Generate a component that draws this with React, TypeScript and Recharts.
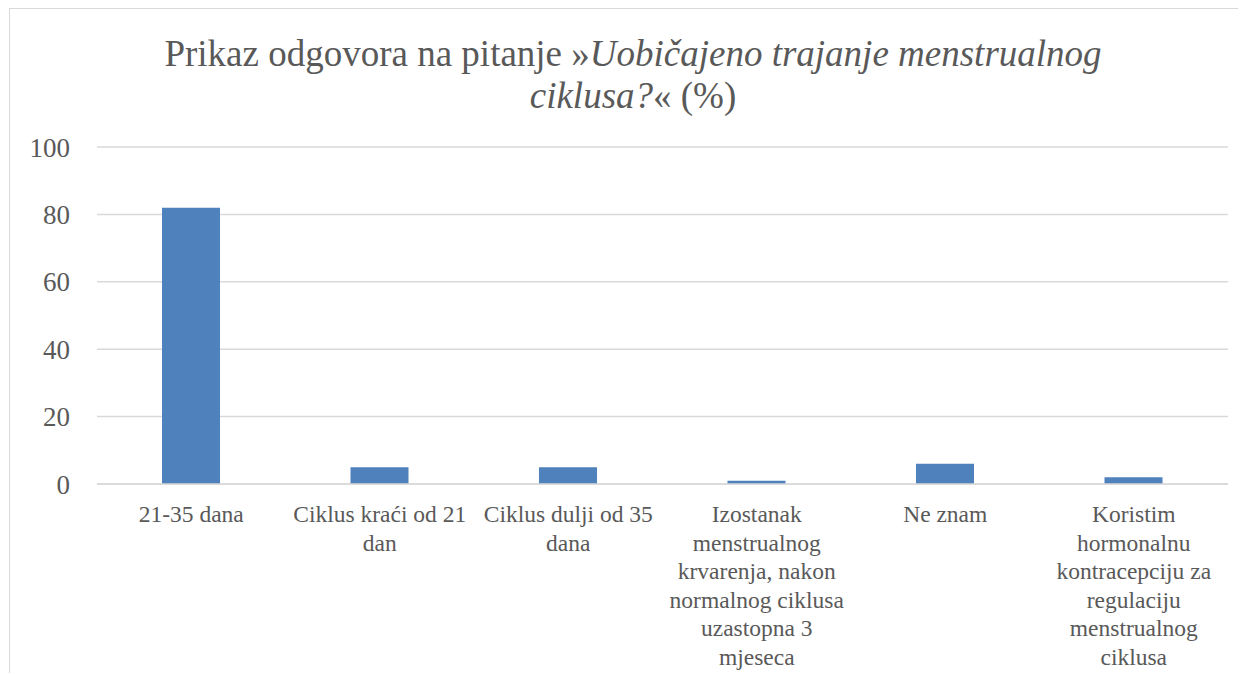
import { BarChart, Bar, XAxis, YAxis, CartesianGrid } from "recharts";

const categories = [
  "21-35 dana",
  "Ciklus kraći od 21 dan",
  "Ciklus dulji od 35 dana",
  "Izostanak menstrualnog krvarenja, nakon normalnog ciklusa uzastopna 3 mjeseca",
  "Ne znam",
  "Koristim hormonalnu kontracepciju za regulaciju menstrualnog ciklusa",
];

// how the labels wrap in the original
const labelLines = [
  ["21-35 dana"],
  ["Ciklus kraći od 21", "dan"],
  ["Ciklus dulji od 35", "dana"],
  ["Izostanak", "menstrualnog", "krvarenja, nakon", "normalnog ciklusa", "uzastopna 3", "mjeseca"],
  ["Ne znam"],
  ["Koristim", "hormonalnu", "kontracepciju za", "regulaciju", "menstrualnog", "ciklusa"],
];

const values = [82, 5, 5, 1, 6, 2];
const yTicks = [0, 20, 40, 60, 80, 100];

const data = categories.map((name, i) => ({ name, value: values[i] }));

const grey = "#595959";
const serif = "Liberation Serif";

function CategoryTick({ x, y, index }: any) {
  const lines = labelLines[index] || [];
  return (
    <text x={x} y={y} textAnchor="middle" fill={grey} fontSize={23.5} fontFamily={serif}>
      {lines.map((l, i) => (
        <tspan key={i} x={x} dy={i === 0 ? 36 : 28.5}>
          {l}
        </tspan>
      ))}
    </text>
  );
}

export default function App() {
  return (
    <div
      style={{
        width: 1228,
        height: 664,
        marginLeft: 1,
        borderTop: "1px solid #d9d9d9",
        borderLeft: "1px solid #d9d9d9",
        fontFamily: serif,
      }}
    >
      <div
        style={{
          paddingTop: 24,
          paddingLeft: 18,
          height: 84,
          textAlign: "center",
          fontSize: 37,
          lineHeight: "42px",
          color: grey,
        }}
      >
        Prikaz odgovora na pitanje »<i>Uobičajeno trajanje menstrualnog</i>
        <br />
        <i>ciklusa?</i>« (%)
      </div>
      <BarChart
        width={1228}
        height={556}
        data={data}
        margin={{ top: 30, right: 10, left: 0, bottom: 0 }}
      >
        <CartesianGrid vertical={false} stroke="#d9d9d9" strokeWidth={1.5} />
        <XAxis
          dataKey="name"
          interval={0}
          height={189}
          tickLine={false}
          tickSize={0}
          axisLine={{ stroke: "#d9d9d9", strokeWidth: 1.5 }}
          tick={<CategoryTick />}
        />
        <YAxis
          width={87}
          domain={[0, 100]}
          ticks={yTicks}
          axisLine={false}
          tickLine={false}
          tickSize={0}
          tickMargin={27}
          tick={{ fill: grey, fontSize: 27, fontFamily: serif }}
        />
        <Bar dataKey="value" fill="#4f81bd" barSize={58} isAnimationActive={false} />
      </BarChart>
    </div>
  );
}
